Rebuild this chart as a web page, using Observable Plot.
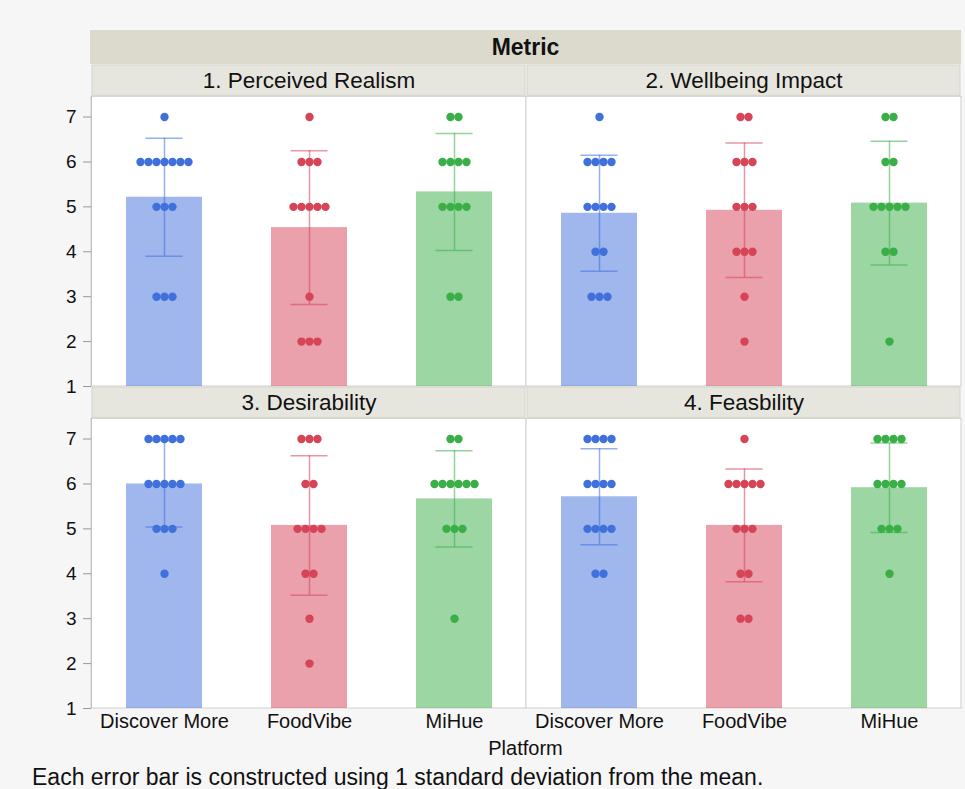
<!DOCTYPE html>
<html><head><meta charset="utf-8">
<script src="https://cdn.jsdelivr.net/npm/d3@7"></script>
<script src="https://cdn.jsdelivr.net/npm/@observablehq/plot@0.6"></script>
<style>
html,body{margin:0;padding:0;background:#f6f6f6;}
body{width:965px;height:789px;position:relative;overflow:hidden;font-family:"Liberation Sans",Arial,Helvetica,sans-serif;color:#111;}
#chart{position:absolute;left:0;top:0;}
#metric{position:absolute;left:90px;top:30px;width:871px;height:34px;background:#dcdacc;font-weight:bold;font-size:23px;line-height:34px;text-align:center;}
#xlabel{position:absolute;left:90px;width:871px;top:736px;text-align:center;font-size:20px;line-height:24px;}
#caption{position:absolute;left:32px;top:766px;font-size:23px;line-height:22px;white-space:nowrap;}
</style></head>
<body>
<div id="chart"></div>
<div id="metric">Metric</div>
<div id="xlabel">Platform</div>
<div id="caption">Each error bar is constructed using 1 standard deviation from the mean.</div>
<script>
// ---- data (individual responses) ----
const metrics = ["1. Perceived Realism", "2. Wellbeing Impact", "3. Desirability", "4. Feasbility"];
const platforms = ["Discover More", "FoodVibe", "MiHue"];
const yTicks = [1, 2, 3, 4, 5, 6, 7];
// each: [Discover More, FoodVibe, MiHue]
const perceivedRealism = [
  [7,6,6,6,6,6,6,6,5,5,5,3,3,3],
  [7,6,6,6,5,5,5,5,5,3,2,2,2],
  [7,7,6,6,6,6,5,5,5,5,3,3]
];
const wellbeingImpact = [
  [7,6,6,6,6,5,5,5,5,4,4,3,3,3],
  [7,7,6,6,6,5,5,5,4,4,4,3,2],
  [7,7,6,6,5,5,5,5,5,4,4,2]
];
const desirability = [
  [7,7,7,7,7,6,6,6,6,6,5,5,5,4],
  [7,7,7,6,6,5,5,5,5,4,4,3,2],
  [7,7,6,6,6,6,6,6,5,5,5,3]
];
const feasibility = [
  [7,7,7,7,6,6,6,6,5,5,5,5,4,4],
  [7,6,6,6,6,6,5,5,5,4,4,3,3],
  [7,7,7,7,6,6,6,6,5,5,5,4]
];
const dotColors = ["#4070dc", "#d54457", "#3aae47"];

// ---- layout ----
const W = 965, H = 740, ML = 90, MR = 4, MT = 64, MB = 32;
const facetW = (W - ML - MR) / 2;
const yMin = 1, stripLo = 7.45, yMax = 8.17;

const metricValues = [perceivedRealism, wellbeingImpact, desirability, feasibility];
const panels = metrics.map((m, i) => ({metric: m, col: i % 2, row: Math.floor(i / 2)}));
const stats = [], points = [];
metricValues.forEach((groups, i) => groups.forEach((vals, j) => {
  const p = panels[i];
  stats.push({...p, platform: platforms[j], mean: d3.mean(vals), sd: d3.deviation(vals)});
  d3.rollups(vals, v => v.length, v => v).forEach(([value, n]) => {
    for (let k = 0; k < n; k++) points.push({...p, platform: platforms[j], value, offset: k - (n - 1) / 2});
  });
}));
const offsets = Array.from(new Set(points.map(d => d.offset)));
const F = {fx: "col", fy: "row"};

const chart = Plot.plot({
  width: W, height: H,
  marginLeft: ML, marginRight: MR, marginTop: MT, marginBottom: MB,
  style: {background: "transparent", fontFamily: "'Liberation Sans', Arial, Helvetica, sans-serif", color: "#111"},
  fx: {domain: [0, 1], padding: 0, axis: null},
  fy: {domain: [0, 1], padding: 0, axis: null},
  x: {domain: platforms, paddingInner: 0.476, paddingOuter: 0.238},
  y: {domain: [yMin, yMax]},
  color: {domain: platforms, range: dotColors},
  marks: [
    Plot.rect(panels, {...F, y1: () => yMin, y2: () => stripLo, fill: "white", stroke: "#cfcfcf"}),
    Plot.barY(stats, {...F, x: "platform", y1: () => yMin, y2: "mean", fill: "platform", fillOpacity: 0.5}),
    Plot.ruleX(stats, {...F, x: "platform", y1: d => d.mean - d.sd, y2: d => d.mean + d.sd, stroke: "platform", strokeOpacity: 0.55, strokeWidth: 1.5}),
    Plot.tickY(stats, {...F, x: "platform", y: d => d.mean + d.sd, stroke: "platform", strokeOpacity: 0.55, strokeWidth: 1.5, inset: 19.5}),
    Plot.tickY(stats, {...F, x: "platform", y: d => d.mean - d.sd, stroke: "platform", strokeOpacity: 0.55, strokeWidth: 1.5, inset: 19.5}),
    ...offsets.map(o => Plot.dot(points.filter(d => d.offset === o), {...F, x: "platform", y: "value", fill: "platform", r: 4.2, dx: o * 8})),
    Plot.rect(panels, {...F, y1: () => stripLo, y2: () => yMax, fill: "#e7e6de", stroke: "#d6d4c8", inset: 1}),
    Plot.text(panels, {...F, y: () => (stripLo + yMax) / 2, text: "metric", fontSize: 22.5, fill: "#111"}),
    Plot.rect(panels.filter(d => d.col === 0), {...F, y1: () => yMin, y2: () => stripLo, fill: "#9a9a9a", insetRight: facetW - 1}),
    Plot.axisY({ticks: yTicks, tickSize: 8, tickPadding: 7, fontSize: 19, stroke: "#999", fill: "#111", label: null}),
    Plot.axisX({tickSize: 0, tickPadding: 5, fontSize: 20, fill: "#111", label: null})
  ]
});
document.getElementById("chart").appendChild(chart);
</script>
</body></html>
